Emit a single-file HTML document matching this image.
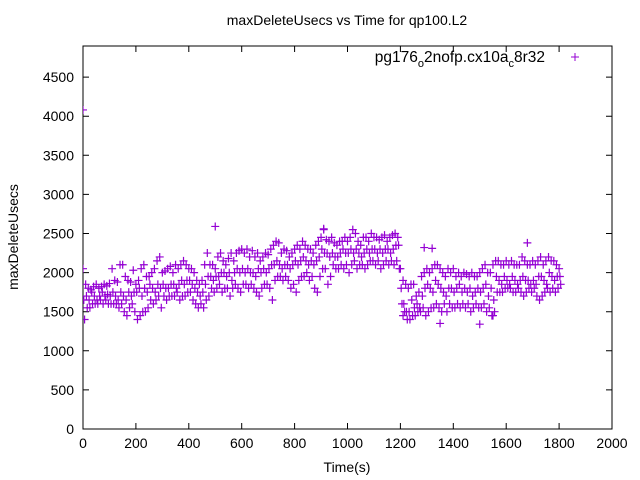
<!DOCTYPE html>
<html><head><meta charset="utf-8"><style>
body{margin:0;background:#fff;}
svg{display:block;font-family:"Liberation Sans",sans-serif;}
</style></head><body>
<svg id="chart" width="640" height="480" viewBox="0 0 640 480">
<rect width="640" height="480" fill="#fff"/>
<text x="347" y="25" font-size="14" text-anchor="middle">maxDeleteUsecs vs Time for qp100.L2</text>
<text transform="translate(18,237) rotate(-90)" font-size="14" text-anchor="middle">maxDeleteUsecs</text>
<text x="347" y="472" font-size="14" text-anchor="middle">Time(s)</text>
<g id="axes"></g>
<g id="points"></g>
<g>
<text x="545" y="62" font-size="15.5" text-anchor="end">pg176<tspan font-size="11" dy="5">o</tspan><tspan dy="-5">2nofp.cx10a</tspan><tspan font-size="11" dy="5">c</tspan><tspan dy="-5">8r32</tspan></text>
<path d="M571,57h8M575,53v8" stroke="#9400d3" stroke-width="1"/>
</g>
</svg>
<script>
const xTicks=[0,200,400,600,800,1000,1200,1400,1600,1800,2000];
const yTicks=[0,500,1000,1500,2000,2500,3000,3500,4000,4500];
const tStart=0, tStep=10;
const upperVals=[2050,1850,1800,1780,1820,1850,1800,1820,1850,1830,
1860,2050,1900,1880,2100,2100,1950,1900,1880,2030,
1850,1900,2050,2100,1950,1950,2000,2050,2150,2200,
2000,2020,2050,2080,2000,2100,2050,2100,2150,2100,
2050,2050,2000,1900,1850,1900,2100,2250,2100,2100,
2050,2200,2250,2150,2100,2180,2250,2150,2250,2280,
2300,2250,2300,2200,2280,2200,2250,2150,2200,2250,
2230,2300,2350,2400,2380,2250,2300,2280,2200,2250,
2300,2350,2300,2400,2350,2300,2300,2250,2350,2400,
2450,2550,2420,2400,2450,2380,2350,2400,2400,2450,
2400,2450,2550,2500,2400,2350,2450,2450,2400,2500,
2450,2450,2420,2450,2480,2400,2450,2480,2500,2450,
2050,1900,1850,1800,1850,1850,1700,1750,1950,2000,
2050,2000,2050,2100,2100,2050,2000,1950,2050,2000,
2050,1950,2000,1950,2000,1980,1950,2000,1950,1950,
2000,2050,2100,2000,2000,2100,2150,2150,2100,2100,
2150,2100,2150,2100,2100,2100,2200,2150,2100,2100,
2150,2100,2150,2200,2100,2150,2200,2150,2150,2100,2050];
const midVals=[1650,1700,1650,1750,1700,1650,1700,1750,1700,1720,
1700,1750,1700,1650,1750,1700,1650,1750,1700,1750,
1750,1800,1700,1800,1750,1850,1800,1750,1850,1800,
1850,1800,1800,1850,1850,1800,1850,1900,1850,1900,
1900,1850,1800,1750,1700,1750,1850,1950,1950,1900,
1950,1950,2000,2000,1950,2000,1900,2000,2050,2000,
2050,2000,2050,2000,2000,1950,2050,2000,2050,2000,
2050,2100,2100,2150,2100,2050,2100,2100,2050,2100,
2150,2100,2150,2200,2150,2100,2150,2100,2150,2200,
2300,2250,2250,2200,2250,2200,2200,2250,2300,2250,
2250,2300,2250,2300,2250,2200,2250,2300,2250,2300,
2300,2250,2300,2250,2300,2300,2250,2300,2350,2350,
1800,1600,1500,1500,1650,1550,1600,1550,1700,1800,
1850,1800,1750,1900,1850,1800,1750,1700,1800,1800,
1750,1800,1850,1750,1800,1750,1800,1700,1750,1800,
1750,1800,1850,1700,1800,1650,1950,1900,1850,1950,
1900,1850,1950,1900,1850,1900,1950,1900,1900,1850,
1900,1850,1950,1950,1900,1850,2000,1950,1900,1950,1950];
const lowerVals=[1400,1550,1550,1600,1600,1600,1650,1600,1650,1600,
1600,1600,1600,1550,1600,1500,1450,1550,1600,1500,
1400,1450,1500,1500,1550,1650,1600,1650,1700,1550,
1700,1650,1700,1700,1700,1750,1650,1700,1700,1750,
1750,1650,1600,1550,1600,1550,1650,1700,1800,1750,
1800,1850,1750,1800,1800,1700,1800,1850,1800,1750,
1850,1850,1800,1850,1800,1750,1700,1800,1850,1850,
1800,1650,1900,1950,1950,1900,1950,1900,1800,1850,
1750,1900,1950,1950,2000,1900,1950,1800,1750,1950,
2050,2050,1850,1950,2100,2050,2050,2100,2050,2100,
2000,2100,2150,2050,2100,2100,2050,2100,2150,2150,
2100,2150,2050,2100,2150,2100,2150,2100,2150,2050,
1600,1500,1400,1400,1450,1450,1500,1500,1550,1450,
1500,1550,1550,1600,1550,1500,1600,1500,1600,1550,
1550,1600,1550,1600,1550,1600,1500,1550,1600,1550,
1550,1600,1500,1550,1450,1500,1750,1750,1750,1800,
1800,1800,1750,1750,1800,1750,1700,1750,1800,1750,
1800,1700,1650,1700,1750,1800,1750,1800,1750,1800,1850];
const outlierTimes=[0,500,910,1290,1320,1350,1500,1680,1210,1550];
const outlierVals=[4080,2590,2560,2320,2310,1350,1340,2380,1450,1450];

const L=83,R=612,T=46,B=429;
const xMax=2000, yPerPx=0.0782;
function sx(t){return L+(R-L)*t/xMax;}
function sy(v){return B-v*yPerPx;}
const NS="http://www.w3.org/2000/svg";
const axes=document.getElementById('axes');
const pts=document.getElementById('points');
function mk(tag,attrs,parent){const e=document.createElementNS(NS,tag);for(const k in attrs)e.setAttribute(k,attrs[k]);parent.appendChild(e);return e;}

const frame=mk('rect',{x:L,y:T,width:R-L,height:B-T,fill:'none',stroke:'#000','stroke-width':1},axes);


xTicks.forEach(t=>{
  const x=sx(t);
  const tk=mk('path',{d:`M${x},${B}v-6M${x},${T}v6`,stroke:'#000','stroke-width':1},axes);
  
  
  const lb=mk('text',{x:x,y:B+19,'font-size':14,'text-anchor':'middle'},axes);
  lb.textContent=t;
  
  
});
yTicks.forEach(v=>{
  const y=sy(v);
  const tk=mk('path',{d:`M${L},${y}h6M${R},${y}h-6`,stroke:'#000','stroke-width':1},axes);
  
  
  const lb=mk('text',{x:L-9,y:y+5,'font-size':14,'text-anchor':'end'},axes);
  lb.textContent=v;
  
  
});
function plus(t,v){
  const x=sx(t),y=sy(v);
  const p=mk('path',{d:`M${x-4},${y}h8M${x},${y-4}v8`,stroke:'#9400d3','stroke-width':1.2},pts);
  
  
}
[upperVals,midVals,lowerVals].forEach((arr,k)=>{
  arr.forEach((v,i)=>{plus(tStart+i*tStep+k*3,v);});
});
outlierTimes.forEach((t,i)=>plus(t,outlierVals[i]));
const cp=mk('clipPath',{id:'clip'},axes);
mk('rect',{x:L,y:T,width:R-L,height:B-T},cp);
pts.setAttribute('clip-path','url(#clip)');
</script>
</body></html>
